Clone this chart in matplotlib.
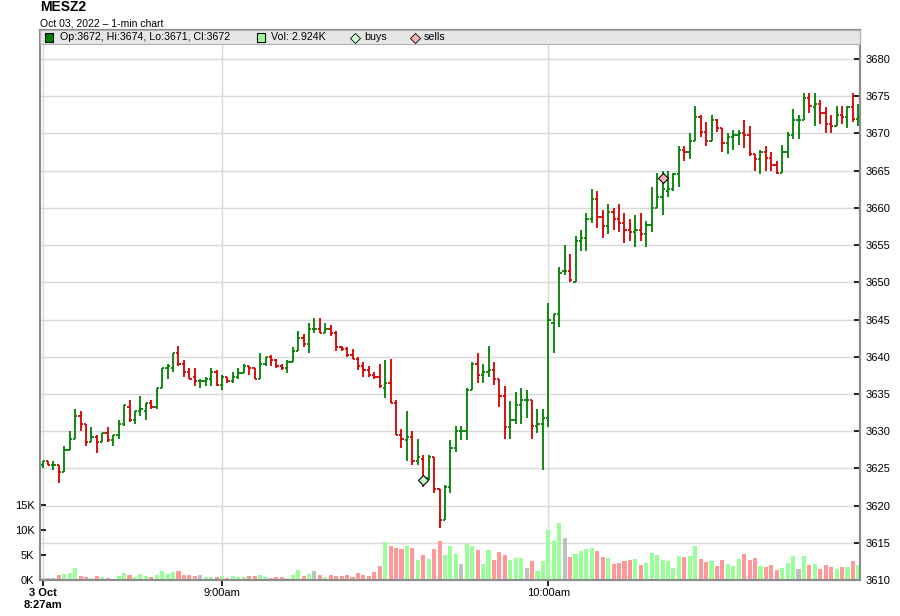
import matplotlib
matplotlib.use("Agg")
import matplotlib.pyplot as plt
from matplotlib.patches import Rectangle
from matplotlib.lines import Line2D
from matplotlib.ticker import FuncFormatter

plt.rcParams['font.family'] = ['Liberation Sans', 'DejaVu Sans']

# ---------------- data ----------------
title = "MESZ2"
subtitle = "Oct 03, 2022 \u2013 1-min chart"

opens = [3625.5, 3626, 3625.5, 3625.5, 3624.5, 3627.5, 3629, 3632, 3631, 3628.5,
         3629.25, 3628.5, 3629.75, 3628.75, 3629.5, 3631, 3633.25, 3631.5, 3632.75, 3632.75,
         3633.75, 3633.25, 3635.75, 3638.5, 3638.5, 3640.5, 3639, 3638, 3637.25, 3636.75,
         3636.75, 3637, 3638, 3636.25, 3637.25, 3636.75, 3637.25, 3637.75, 3638.75, 3638.5,
         3637, 3639, 3640, 3639.5, 3638.75, 3638.5, 3639.25, 3640.75, 3642.5, 3641.75,
         3643.75, 3643.75, 3643.25, 3643.75, 3643.25, 3641.25, 3641, 3640.25, 3639.75, 3638.75,
         3638.25, 3637.5, 3637.25, 3635.75, 3636.5, 3633.75, 3629.5, 3628.75, 3629.25, 3626,
         3626.25, 3623.75, 3626.5, 3622.25, 3618, 3622.5, 3627.75, 3630, 3630, 3635.5,
         3639, 3637.5, 3638, 3638.25, 3637, 3634.75, 3630.5, 3631.5, 3633.5, 3634.25,
         3634.25, 3630.75, 3631, 3631.75, 3644.5, 3645.75, 3651.5, 3651.5, 3650, 3655.5,
         3656, 3658.5, 3661.25, 3658.75, 3657.5, 3659.5, 3658.5, 3658, 3657, 3656.75,
         3657, 3656.5, 3657.75, 3660, 3661.5, 3662.25, 3662.5, 3664.5, 3667.75, 3667.5,
         3669, 3672.25, 3670.25, 3669, 3671.75, 3670.75, 3668.75, 3669.5, 3669.75, 3670,
         3669.75, 3667.25, 3666.5, 3667.5, 3666.75, 3665.75, 3664.75, 3667.5, 3669.75, 3671.75,
         3671.75, 3674.75, 3673.5, 3674, 3672.75, 3671.25, 3671, 3672.5, 3672.25, 3673.5,
         3672]
highs = [3626, 3626, 3626, 3625.5, 3628, 3630, 3633, 3632.75, 3631, 3630.5,
         3629.5, 3629.75, 3630.5, 3629.5, 3631.5, 3633.5, 3634.25, 3632.75, 3634.75, 3633.75,
         3634.25, 3635.75, 3638.5, 3639, 3640.5, 3641.5, 3639.5, 3638.5, 3638.5, 3637,
         3637.25, 3638.5, 3638.25, 3637.5, 3637.25, 3638, 3638.5, 3639, 3638.75, 3638.5,
         3640.5, 3640, 3640.25, 3639.75, 3639, 3639.5, 3641.25, 3643.5, 3643, 3644.5,
         3645.25, 3645.25, 3644.5, 3644.25, 3643.5, 3641.5, 3641.25, 3641, 3640, 3639.25,
         3638.75, 3638, 3639, 3639.5, 3639.75, 3634.25, 3630.25, 3632.75, 3630, 3629,
         3626.75, 3626.75, 3626.5, 3622.25, 3622.75, 3628.75, 3630.75, 3630.75, 3635.75, 3639.25,
         3640.5, 3639, 3641.5, 3639.25, 3637, 3636, 3634, 3635.25, 3635.75, 3635.5,
         3634.25, 3633, 3633, 3647.25, 3645.75, 3652, 3655, 3653.75, 3656.25, 3657,
         3659.25, 3662.5, 3662.25, 3659.75, 3660.5, 3660, 3660.5, 3659.25, 3658.5, 3659,
         3659.25, 3658.25, 3662.75, 3664.75, 3665, 3665, 3664.75, 3668.25, 3668.25, 3670,
         3673.75, 3672.5, 3671.5, 3672.5, 3672, 3670.75, 3670, 3670.5, 3670.5, 3671.75,
         3671, 3667.25, 3667.75, 3668.25, 3667.5, 3666.25, 3668.5, 3670.25, 3673.25, 3672.5,
         3675.5, 3675.5, 3675.5, 3674.5, 3673.5, 3672.5, 3673.75, 3673.75, 3673.75, 3675.5,
         3674]
lows = [3625, 3625.5, 3624.75, 3623, 3624.5, 3627.5, 3629, 3630, 3628, 3628.5,
        3627, 3628.5, 3628.5, 3628, 3629, 3630.75, 3631.25, 3631, 3632, 3631.5,
        3633, 3633, 3635.75, 3637, 3638, 3638.75, 3637.25, 3637, 3636, 3635.75,
        3636, 3636, 3636, 3635.5, 3636.5, 3636.5, 3637, 3637.75, 3637.5, 3637,
        3637, 3638.75, 3638.75, 3638.5, 3638.25, 3637.75, 3639.25, 3640.75, 3641.25, 3640.5,
        3643.25, 3643.25, 3643.25, 3642.75, 3640.75, 3640.75, 3640, 3639.75, 3638.25, 3637.25,
        3637.25, 3637, 3635.75, 3634.5, 3633.75, 3629.5, 3627.75, 3626, 3625.5, 3625.5,
        3622.5, 3623.5, 3621.75, 3617, 3618, 3621.75, 3627.25, 3628.75, 3628.75, 3635.5,
        3636.5, 3636.5, 3637.25, 3636.25, 3633.25, 3629, 3629, 3631, 3631, 3631.75,
        3629, 3629.75, 3624.75, 3630.5, 3640.5, 3644, 3651, 3650, 3650, 3654.25,
        3654.25, 3658, 3657.25, 3656, 3656.5, 3657, 3656.75, 3655.25, 3655.5, 3654.75,
        3655.5, 3654.75, 3656.75, 3660, 3659, 3661.5, 3662.25, 3662.75, 3666.25, 3666.5,
        3669, 3669.5, 3668.25, 3669, 3670.25, 3667.5, 3667.25, 3667.75, 3668.5, 3668,
        3667, 3665, 3664.5, 3665, 3665, 3664.5, 3664.75, 3666.75, 3669.25, 3669.25,
        3671.75, 3672.75, 3671, 3671.25, 3670, 3670, 3671, 3671.25, 3670.75, 3671.5,
        3671]
closes = [3626, 3625.5, 3625.5, 3624.5, 3627.5, 3629, 3632, 3631, 3628.5, 3629.25,
          3628.5, 3629.75, 3628.75, 3629.5, 3631, 3633.5, 3631.5, 3632.75, 3633, 3633.75,
          3633.25, 3635.75, 3638.5, 3638.75, 3640.5, 3639, 3638, 3637, 3636.75, 3636.75,
          3637, 3638, 3636.25, 3637.25, 3636.75, 3637.25, 3637.75, 3638.75, 3638.5, 3637,
          3639, 3640, 3639.5, 3638.75, 3638.5, 3639.25, 3640.75, 3642.5, 3641.75, 3643.75,
          3643.75, 3643.25, 3643.75, 3643.25, 3641.25, 3641, 3640.25, 3639.75, 3638.75, 3638.25,
          3637.5, 3637.25, 3636, 3636.5, 3633.75, 3629.5, 3629, 3629.25, 3626, 3626.5,
          3623.75, 3626.5, 3622.25, 3618, 3622.5, 3627.75, 3630, 3630, 3635.5, 3639,
          3637.5, 3638, 3638.25, 3637, 3634.75, 3630.5, 3631.5, 3633.5, 3634.25, 3634.25,
          3630.75, 3631, 3631.75, 3645, 3645.75, 3651.25, 3651.5, 3650.25, 3655.5, 3656,
          3658.5, 3661.25, 3658.75, 3657.5, 3659.5, 3658.5, 3658, 3657, 3656.75, 3657,
          3656.5, 3657.75, 3660, 3661.5, 3662.5, 3662.5, 3664.5, 3667.75, 3667.5, 3669,
          3672.25, 3670.25, 3669, 3671.75, 3670.75, 3668.75, 3669.5, 3669.75, 3670, 3669.75,
          3667.25, 3666.5, 3667.5, 3666.75, 3665.75, 3664.75, 3667.5, 3669.75, 3671.75, 3671.75,
          3674.75, 3673.75, 3674, 3672.75, 3671.25, 3671, 3672.5, 3672.25, 3673.5, 3672,
          3672.25]
# volume in thousands
volumes = [0.5, 0.5, 0.5, 1.0, 1.2, 1.4, 2.4, 0.8, 0.65, 0.4,
           0.8, 0.6, 0.45, 0.25, 0.8, 1.4, 1.0, 0.65, 1.2, 0.8,
           0.65, 1.0, 1.8, 1.2, 1.6, 1.8, 1.1, 1.1, 0.8, 1.0,
           0.65, 0.65, 0.65, 0.8, 0.4, 0.8, 0.65, 0.65, 0.8, 0.8,
           1.0, 0.65, 0.45, 0.65, 0.65, 0.45, 1.0, 2.0, 0.8, 1.2,
           1.8, 1.0, 0.65, 1.0, 0.8, 0.8, 1.0, 0.65, 1.4, 1.0,
           0.8, 1.6, 2.8, 7.6, 6.9, 6.4, 6.2, 6.9, 6.5, 4.1,
           5.1, 4.3, 6.2, 7.9, 5.1, 6.8, 5.2, 3.2, 7.2, 6.8,
           6.1, 3.2, 6.0, 4.0, 5.6, 5.0, 4.0, 4.4, 4.4, 2.4,
           3.8, 1.8, 3.8, 10.0, 7.8, 11.4, 8.4, 4.6, 5.2, 5.8,
           6.2, 6.4, 5.8, 4.6, 4.4, 3.2, 3.4, 3.8, 4.0, 4.2,
           3.0, 3.4, 5.4, 5.0, 4.0, 3.8, 2.4, 4.8, 4.6, 4.8,
           6.8, 4.2, 3.6, 3.8, 2.8, 4.0, 3.2, 2.8, 4.2, 5.2,
           4.0, 4.4, 2.8, 2.6, 3.0, 2.0, 2.4, 3.4, 4.8, 2.2,
           4.8, 3.0, 3.2, 2.2, 3.0, 2.6, 2.2, 2.6, 2.6, 3.8,
           2.924]

buy_idx = [70]
buy_price = [3623.5]
sell_idx = [114]
sell_price = [3664.0]

price_ticks = [3610, 3615, 3620, 3625, 3630, 3635, 3640, 3645, 3650, 3655,
               3660, 3665, 3670, 3675, 3680]
vol_ticks = [0, 5, 10, 15]
time_tick_idx = [0, 33, 93]
time_tick_labels = ["3 Oct\n8:27am", "9:00am", "10:00am"]

legend_ohlc = "Op:3672, Hi:3674, Lo:3671, Cl:3672"
legend_vol = "Vol: 2.924K"

# ---------------- style ----------------
UP = '#008000'
DN = '#d40000'
VUP = '#99ff99'
VDN = '#ff9999'
VNC = '#c0c0c0'
GRID = '#d9d9d9'
SPINE = '#8c8c8c'

W, H = 900, 616
fig = plt.figure(figsize=(W / 100, H / 100), dpi=100)


def fx(x):
    return x / W


def fy(y):
    return 1 - y / H


ax = fig.add_axes([fx(40), fy(580), fx(860) - fx(40), fy(30) - fy(580)])
ax2 = ax.twinx()

n = len(opens)
xs = list(range(n))

# price axis (main) with grid
ax.set_xlim(-0.46, n - 0.7)
ax.set_ylim(3610, 3683.9)
ax.set_yticks(price_ticks)
ax.yaxis.tick_right()
ax.set_xticks(time_tick_idx)
ax.set_xticklabels(time_tick_labels)
ax.grid(True, color=GRID, linewidth=1.0, zorder=0)
ax.set_axisbelow(True)
ax.tick_params(axis='y', which='both', direction='in', length=4, width=1.2,
               labelsize=8, pad=4, colors='black', right=True, left=False)
ax.tick_params(axis='x', direction='out', length=4, width=1.2, labelsize=8, pad=2)
for lab in ax.get_xticklabels():
    lab.set_linespacing(1.2)
ax.get_xticklabels()[0].set_fontweight('bold')

# OHLC bars
tick_len = 0.42
for i in xs:
    c = UP if closes[i] >= opens[i] else DN
    ax.vlines(i, lows[i], highs[i], color=c, linewidth=1.3, zorder=3)
    ax.hlines(opens[i], i - tick_len, i, color=c, linewidth=1.3, zorder=3)
    ax.hlines(closes[i], i, i + tick_len, color=c, linewidth=1.3, zorder=3)

# buy / sell markers
ax.plot(buy_idx, buy_price, linestyle='none', marker='D', markersize=5.4,
        markerfacecolor='#ccffcc', markeredgecolor='black', markeredgewidth=0.8, zorder=5)
ax.plot(sell_idx, sell_price, linestyle='none', marker='D', markersize=5.4,
        markerfacecolor='#ffb3b3', markeredgecolor='black', markeredgewidth=0.8, zorder=5)

# volume axis (twin)
vcols = []
for i in xs:
    if closes[i] > opens[i]:
        vcols.append(VUP)
    elif closes[i] < opens[i]:
        vcols.append(VDN)
    else:
        vcols.append(VNC)
ax2.bar(xs, volumes, width=0.75, color=vcols, linewidth=0, zorder=2)
ax2.set_ylim(0, 110)
ax2.set_yticks(vol_ticks)
ax2.yaxis.set_major_formatter(FuncFormatter(lambda v, p: f"{int(v)}K"))
ax2.yaxis.tick_left()
ax2.tick_params(axis='y', direction='in', length=4, width=1.2, labelsize=8,
                pad=4, colors='black', left=True, right=False)

for a in (ax, ax2):
    for s in a.spines.values():
        s.set_color(SPINE)
        s.set_linewidth(1.5)

# title / subtitle
fig.text(fx(40), fy(7), title, fontsize=10, fontweight='bold', va='center', ha='left')
fig.text(fx(40), fy(23), subtitle, fontsize=7.5, va='center', ha='left')

# legend strip
fig.add_artist(Rectangle((fx(40), fy(44)), fx(860) - fx(40), fy(30) - fy(44),
                         transform=fig.transFigure, facecolor='#e6e6e6',
                         edgecolor='#b0b0b0', linewidth=0.8, zorder=10))
ly = fy(37.5)
fig.add_artist(Rectangle((fx(45), fy(42)), fx(53) - fx(45), fy(33) - fy(42),
                         transform=fig.transFigure, facecolor=UP,
                         edgecolor='black', linewidth=0.8, zorder=11))
fig.text(fx(60), ly, legend_ohlc, fontsize=7.7, va='center', ha='left', zorder=11)
fig.add_artist(Rectangle((fx(257), fy(42)), fx(265) - fx(257), fy(33) - fy(42),
                         transform=fig.transFigure, facecolor=VUP,
                         edgecolor='black', linewidth=0.8, zorder=11))
fig.text(fx(271), ly, legend_vol, fontsize=7.7, va='center', ha='left', zorder=11)
fig.add_artist(Line2D([fx(355)], [ly], transform=fig.transFigure, marker='D',
                      markersize=5.2, markerfacecolor='#ccffcc', markeredgecolor='black',
                      markeredgewidth=0.6, linestyle='none', zorder=11))
fig.text(fx(364), ly, "buys", fontsize=7.7, va='center', ha='left', zorder=11)
fig.add_artist(Line2D([fx(415)], [ly], transform=fig.transFigure, marker='D',
                      markersize=5.2, markerfacecolor='#ffb3b3', markeredgecolor='black',
                      markeredgewidth=0.6, linestyle='none', zorder=11))
fig.text(fx(424), ly, "sells", fontsize=7.7, va='center', ha='left', zorder=11)

fig.savefig("out.png", dpi=100)
